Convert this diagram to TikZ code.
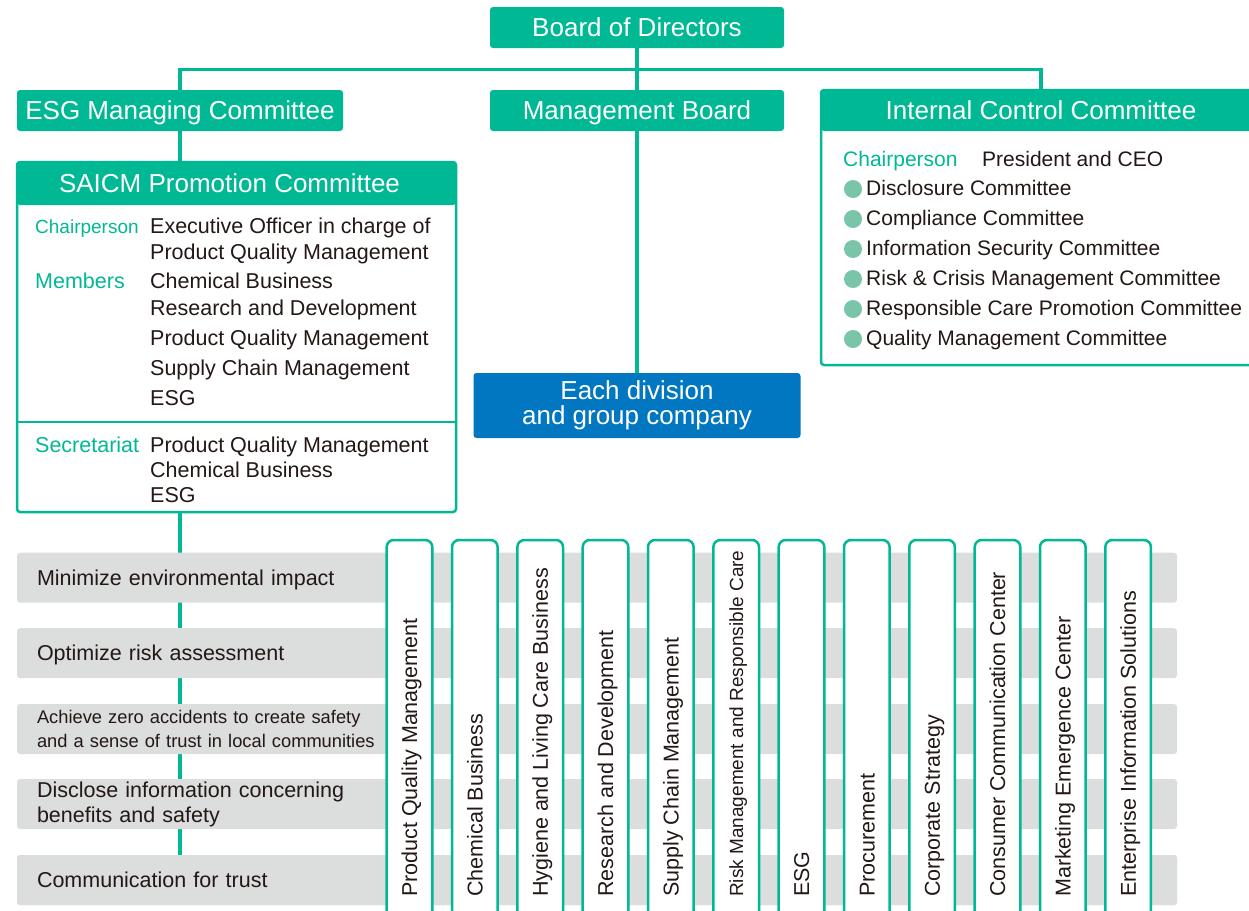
\documentclass[tikz,border=0pt]{standalone}
\usepackage{fontspec}
\setmainfont{Liberation Sans}
\usepackage{tikz}

\definecolor{kgreen}{RGB}{0,184,148}
\definecolor{kblue}{RGB}{0,119,192}
\definecolor{kdot}{RGB}{122,197,168}
\definecolor{kgray}{RGB}{220,221,221}
\definecolor{ktext}{RGB}{35,24,21}
\newcommand\headsize{\fontsize{26}{25}\selectfont}
\newcommand\bodysize{\fontsize{21.5}{25}\selectfont}
\newcommand\listsize{\fontsize{21}{25}\selectfont}

\tikzset{
  headbox/.style={fill=kgreen, text=white, font=\headsize, rounded corners=3pt, inner sep=0pt, text height=18.6pt, text depth=0pt},
  framebox/.style={draw=kgreen, line width=2.5pt, rounded corners=3pt, fill=white, inner sep=0pt},
  link/.style={draw=kgreen, line width=3.5pt},
  tag/.style={text=kgreen, font=\bodysize, anchor=base west, inner sep=0pt},
  entry/.style={text=ktext, font=\bodysize, anchor=base west, inner sep=0pt},
  bullet/.style={circle, fill=kdot, minimum size=18pt, inner sep=0pt},
  goalbar/.style={fill=kgray, rounded corners=3pt, minimum height=50pt, text width=1120pt, inner xsep=20pt, inner ysep=0pt, align=left, text=ktext, font=\bodysize},
  oneline/.style={text height=15.4pt, text depth=0pt},
  colbox/.style={draw=kgreen, line width=2.5pt, fill=white, rounded corners=7pt, minimum width=45.6pt, minimum height=420pt, inner sep=0pt},
  coltext/.style={rotate=90, anchor=west, inner sep=0pt, text=ktext, font=\bodysize, text height=15.4pt, text depth=0pt}
}

\begin{document}
\begin{tikzpicture}[x=1pt,y=-1pt]
\useasboundingbox (0,0) rectangle (1249,910);

\node[headbox, minimum width=294pt, minimum height=41pt] (bod) at (637,27.5) {Board of Directors};
\node[headbox, minimum width=326pt, minimum height=41pt] (esg) at (180,110.5) {ESG Managing Committee};
\node[headbox, minimum width=294pt, minimum height=41pt] (mgmt) at (637,110.5) {Management Board};
\node[framebox, minimum width=440pt, minimum height=275pt] (icc) at (1041,227.5) {};
\node[headbox, minimum width=440pt, minimum height=41pt] (icchead) at (1041,110.5) {Internal Control Committee};
\node[framebox, minimum width=439pt, minimum height=350pt] (saicm) at (236.5,337) {};
\node[headbox, minimum width=439pt, minimum height=43pt] (saicmhead) at (236.5,183.5) {SAICM Promotion Committee\hspace*{14pt}};
\draw[draw=kgreen, line width=2.5pt] (saicm.west |- 0,422) -- (saicm.east |- 0,422);
\node[fill=kblue, rounded corners=3pt, minimum width=327pt, minimum height=65pt, inner sep=0pt, text=white, font=\headsize, align=center] (div) at (637,405.5) {Each division\\and group company};

\coordinate (bus) at (637,69.5);
\draw[link] (bod.south) -- (mgmt.north);
\draw[link] (esg.north) |- (bus) -| (icchead.north);
\draw[link] (esg.south) -- (saicm.north -| esg.south);
\draw[link] (mgmt.south) -- (div.north);

\node[tag, font=\fontsize{19}{25}\selectfont] (chair) at (35,233) {Chairperson};
\node[entry] (chair1) at (150,233) {Executive Officer in charge of};
\node[entry] (chair2) at (150,259) {Product Quality Management};
\node[tag] (members) at (35,288) {Members};
\node[entry] (mem1) at (150,288) {Chemical Business};
\node[entry] (mem2) at (150,315) {Research and Development};
\node[entry] (mem3) at (150,345) {Product Quality Management};
\node[entry] (mem4) at (150,375) {Supply Chain Management};
\node[entry] (mem5) at (150,405) {ESG};
\node[tag] (secr) at (35,452) {Secretariat};
\node[entry] (secr1) at (150,452) {Product Quality Management};
\node[entry] (secr2) at (150,477) {Chemical Business};
\node[entry] (secr3) at (150,502) {ESG};

\node[tag, font=\listsize] (iccchair) at (843,166) {Chairperson};
\node[entry, font=\listsize] (iccceo) at (982,166) {President and CEO};
\node[bullet] (dot1) at (853,189) {};
\node[entry, font=\listsize] (sub1) at (866,195) {Disclosure Committee};
\node[bullet] (dot2) at (853,219) {};
\node[entry, font=\listsize] (sub2) at (866,225) {Compliance Committee};
\node[bullet] (dot3) at (853,249) {};
\node[entry, font=\listsize] (sub3) at (866,255) {Information Security Committee};
\node[bullet] (dot4) at (853,279) {};
\node[entry, font=\listsize] (sub4) at (866,285) {Risk \& Crisis Management Committee};
\node[bullet] (dot5) at (853,309) {};
\node[entry, font=\listsize] (sub5) at (866,315) {Responsible Care Promotion Committee};
\node[bullet] (dot6) at (853,339) {};
\node[entry, font=\listsize] (sub6) at (866,345) {Quality Management Committee};

\node[goalbar] (goal5) at (597,880) {};
\draw[link] (saicm.south -| esg.south) -- (goal5.north -| esg.south);
\node[goalbar, oneline] (goal1) at (597,577.7) {Minimize environmental impact};
\node[goalbar, oneline] (goal2) at (597,653.2) {Optimize risk assessment};
\node[goalbar, font=\fontsize{18.3}{24}\selectfont] (goal3) at (597,729) {Achieve zero accidents to create safety\\and a sense of trust in local communities};
\node[goalbar] (goal4) at (597,804) {Disclose information concerning\\benefits and safety};
\node[goalbar, oneline] at (goal5) {Communication for trust};

\node[colbox] (col1) at (409.5,750) {};
\node[colbox] (col2) at (474.8,750) {};
\node[colbox] (col3) at (540.2,750) {};
\node[colbox] (col4) at (605.5,750) {};
\node[colbox] (col5) at (670.8,750) {};
\node[colbox] (col6) at (736.2,750) {};
\node[colbox] (col7) at (801.5,750) {};
\node[colbox] (col8) at (866.8,750) {};
\node[colbox] (col9) at (932.1,750) {};
\node[colbox] (col10) at (997.5,750) {};
\node[colbox] (col11) at (1062.8,750) {};
\node[colbox] (col12) at (1128.1,750) {};
\node[coltext] (lab1) at (col1 |- 0,897) {Product Quality Management};
\node[coltext] (lab2) at (col2 |- 0,897) {Chemical Business};
\node[coltext] (lab3) at (col3 |- 0,897) {Hygiene and Living Care Business};
\node[coltext] (lab4) at (col4 |- 0,897) {Research and Development};
\node[coltext] (lab5) at (col5 |- 0,897) {Supply Chain Management};
\node[coltext, font=\fontsize{19}{25}\selectfont, text height=13.6pt] (lab6) at (col6 |- 0,897) {Risk Management and Responsible Care};
\node[coltext] (lab7) at (col7 |- 0,897) {ESG};
\node[coltext] (lab8) at (col8 |- 0,897) {Procurement};
\node[coltext] (lab9) at (col9 |- 0,897) {Corporate Strategy};
\node[coltext] (lab10) at (col10 |- 0,897) {Consumer Communication Center};
\node[coltext] (lab11) at (col11 |- 0,897) {Marketing Emergence Center};
\node[coltext] (lab12) at (col12 |- 0,897) {Enterprise Information Solutions};
\end{tikzpicture}
\end{document}
